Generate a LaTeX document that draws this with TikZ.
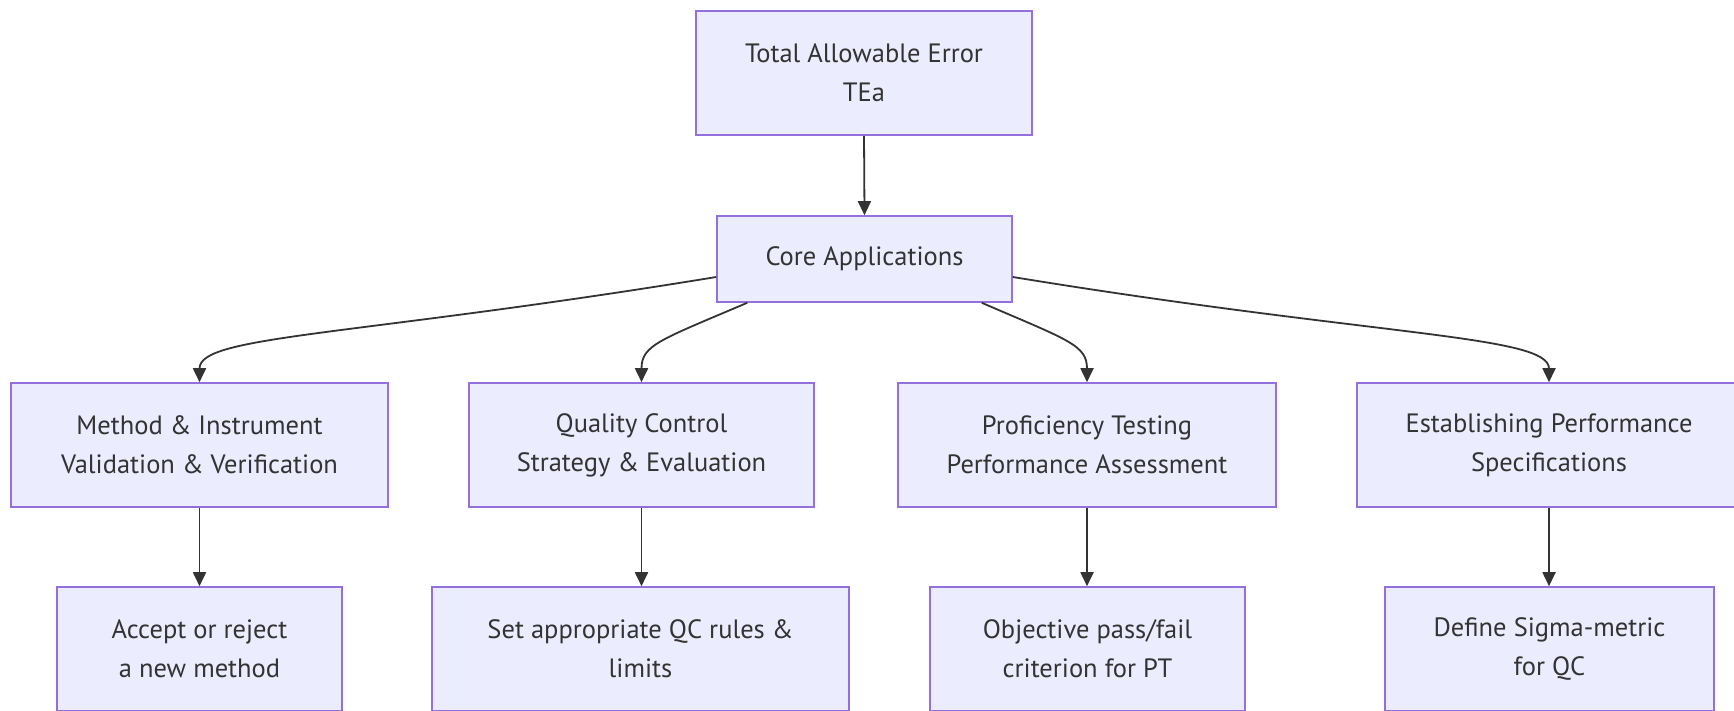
\documentclass[tikz,border=0pt]{standalone}
\usepackage{fontspec}
\setmainfont{PT Sans}
\usetikzlibrary{arrows.meta}
\definecolor{boxfill}{HTML}{ECECFF}
\definecolor{boxline}{HTML}{9370DB}
\definecolor{ink}{HTML}{333333}
\tikzset{
  box/.style={draw=boxline, fill=boxfill, line width=1.6pt, rectangle, inner sep=0pt,
    align=center, text=ink, font=\fontsize{26.5}{39}\selectfont},
  link/.style={draw=ink, line width=1.8pt, -{Triangle[length=14pt,width=13pt]}}
}
\begin{document}
\begin{tikzpicture}[x=1pt,y=-1pt]
\clip (0,0) rectangle (1734,710);
\fill[white] (0,0) rectangle (1734,710);
\node[box, minimum width=336pt, minimum height=124pt] (tea) at (864,73) {Total Allowable Error\\TEa};
\node[box, minimum width=295pt, minimum height=86pt] (core) at (864.5,259) {Core Applications};
\node[box, minimum width=377pt, minimum height=124pt] (method) at (199.5,445) {Method \& Instrument\\Validation \& Verification};
\node[box, minimum width=345pt, minimum height=124pt] (quality) at (641.5,445) {Quality Control\\Strategy \& Evaluation};
\node[box, minimum width=378pt, minimum height=124pt] (prof) at (1087,445) {Proficiency Testing\\Performance Assessment};
\node[box, minimum width=384pt, minimum height=124pt] (estab) at (1549,445) {Establishing Performance\\Specifications};
\node[box, minimum width=285pt, minimum height=124pt] (accept) at (199.5,649) {Accept or reject\\a new method};
\node[box, minimum width=417pt, minimum height=124pt] (setqc) at (640.5,649) {Set appropriate QC rules \&\\limits};
\node[box, minimum width=315pt, minimum height=124pt] (obj) at (1087.5,649) {Objective pass/fail\\criterion for PT};
\node[box, minimum width=329pt, minimum height=124pt] (define) at (1549.5,649) {Define Sigma-metric\\for QC};

\draw[link] (tea.south) -- (core.north);
\draw[link] ([yshift=-18pt]core.west) .. controls (350,337) and (199.5,335) .. (method.north);
\draw[link] ([xshift=31pt]core.south west) .. controls (660,340) and (641.5,345) .. (quality.north);
\draw[link] ([xshift=-31pt]core.south east) .. controls (1068,340) and (1087,345) .. (prof.north);
\draw[link] ([yshift=-18pt]core.east) .. controls (1380,337) and (1549,335) .. (estab.north);
\draw[link] (method.south) -- (method.south |- accept.north);
\draw[link] (quality.south) -- (quality.south |- setqc.north);
\draw[link] (prof.south) -- (prof.south |- obj.north);
\draw[link] (estab.south) -- (estab.south |- define.north);
\end{tikzpicture}
\end{document}
